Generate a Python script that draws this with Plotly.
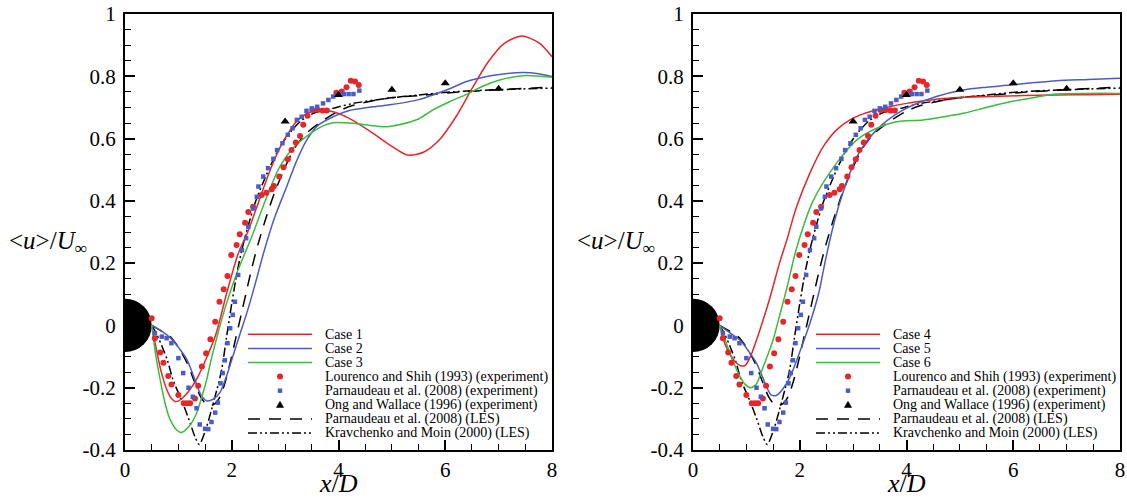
import numpy as np
import plotly.graph_objects as go

# ---------------- simulation cases (left panel) ----------------
case1_x = [0.5, 0.58, 0.68, 0.78, 0.87, 0.95, 1.05, 1.2, 1.35, 1.5, 1.7, 1.9, 2.12, 2.3,
           2.5, 2.7, 2.9, 3.05, 3.2, 3.4, 3.6, 3.9, 4.2, 4.65, 5.0, 5.3, 5.6, 5.9, 6.2,
           6.5, 6.8, 7.1, 7.43, 7.75, 8.0]
case1_u = [0.0, -0.07, -0.15, -0.205, -0.235, -0.245, -0.237, -0.21, -0.17, -0.115, -0.03,
           0.1, 0.23, 0.3, 0.395, 0.49, 0.57, 0.615, 0.652, 0.68, 0.69, 0.686, 0.665,
           0.617, 0.575, 0.547, 0.557, 0.598, 0.67, 0.76, 0.845, 0.905, 0.929, 0.908, 0.863]

case2_x = [0.5, 0.7, 0.85, 1.0, 1.16, 1.3, 1.42, 1.53, 1.65, 1.78, 1.9, 2.0, 2.15, 2.3,
           2.45, 2.6, 2.8, 3.03, 3.2, 3.4, 3.6, 3.9, 4.2, 4.65, 5.15, 5.5, 5.77, 6.15,
           6.4, 6.8, 7.02, 7.45, 7.75, 8.0]
case2_u = [0.0, -0.02, -0.04, -0.07, -0.11, -0.17, -0.222, -0.242, -0.237, -0.215, -0.164,
           -0.11, -0.03, 0.05, 0.14, 0.235, 0.345, 0.446, 0.522, 0.594, 0.64, 0.67, 0.69,
           0.702, 0.713, 0.725, 0.74, 0.765, 0.783, 0.8, 0.806, 0.812, 0.808, 0.799]

case3_x = [0.5, 0.59, 0.66, 0.75, 0.84, 0.97, 1.06, 1.22, 1.34, 1.44, 1.53, 1.6, 1.75,
           1.9, 2.1, 2.4, 2.65, 2.9, 3.15, 3.4, 3.7, 3.9, 4.28, 4.6, 4.9, 5.15, 5.5,
           5.77, 6.1, 6.4, 6.7, 7.02, 7.46, 8.0]
case3_u = [0.0, -0.11, -0.175, -0.25, -0.3, -0.336, -0.344, -0.32, -0.282, -0.229, -0.175,
           -0.12, -0.02, 0.07, 0.17, 0.296, 0.41, 0.51, 0.57, 0.607, 0.64, 0.651, 0.649,
           0.642, 0.638, 0.645, 0.663, 0.692, 0.72, 0.742, 0.768, 0.788, 0.802, 0.797]

# ---------------- simulation cases (right panel) ----------------
case4_x = [0.5, 0.6, 0.7, 0.8, 0.9, 0.98, 1.1, 1.19, 1.3, 1.4, 1.5, 1.62, 1.75, 1.94,
           2.19, 2.44, 2.69, 2.94, 3.2, 3.44, 3.7, 4.0, 4.35, 4.69, 5.1, 5.56, 6.2,
           6.81, 7.4, 8.0]
case4_u = [0.0, -0.06, -0.095, -0.118, -0.13, -0.128, -0.09, -0.047, 0.01, 0.065, 0.125,
           0.2, 0.27, 0.381, 0.489, 0.574, 0.628, 0.66, 0.68, 0.692, 0.703, 0.713, 0.722,
           0.729, 0.733, 0.735, 0.738, 0.74, 0.741, 0.742]

case5_x = [0.5, 0.7, 0.88, 1.05, 1.19, 1.3, 1.4, 1.47, 1.57, 1.7, 1.82, 2.0, 2.19, 2.35,
           2.47, 2.6, 2.75, 3.07, 3.44, 3.94, 4.56, 5.06, 5.5, 5.94, 6.4, 6.81, 7.4, 8.0]
case5_u = [0.0, -0.025, -0.047, -0.085, -0.121, -0.165, -0.205, -0.224, -0.224, -0.2,
           -0.165, -0.085, 0.007, 0.1, 0.2, 0.3, 0.395, 0.542, 0.628, 0.692, 0.735,
           0.756, 0.765, 0.772, 0.78, 0.786, 0.79, 0.794]

case6_x = [0.5, 0.6, 0.69, 0.8, 0.88, 0.98, 1.08, 1.18, 1.3, 1.4, 1.5, 1.62, 1.75, 1.94,
           2.25, 2.69, 3.07, 3.44, 3.81, 4.31, 4.7, 5.06, 5.5, 5.94, 6.4, 6.81, 7.4, 8.0]
case6_u = [0.0, -0.045, -0.089, -0.135, -0.164, -0.19, -0.2, -0.19, -0.14, -0.095, -0.047,
           0.03, 0.114, 0.248, 0.4, 0.521, 0.596, 0.633, 0.654, 0.66, 0.67, 0.681, 0.7,
           0.718, 0.732, 0.743, 0.745, 0.745]

# ---------------- reference LES ----------------
parn_les_x = [0.5, 0.7, 0.84, 1.0, 1.16, 1.3, 1.42, 1.56, 1.68, 1.78, 1.88, 1.97, 2.07,
              2.17, 2.27, 2.37, 2.5, 2.65, 2.8, 3.03, 3.2, 3.4, 3.71, 4.0, 4.28, 4.9, 5.5,
              6.15, 7.0, 8.0]
parn_les_u = [0.0, -0.02, -0.035, -0.07, -0.12, -0.18, -0.23, -0.258, -0.252, -0.229,
              -0.18, -0.12, -0.045, 0.03, 0.105, 0.18, 0.265, 0.35, 0.425, 0.52, 0.575,
              0.617, 0.658, 0.688, 0.707, 0.729, 0.738, 0.748, 0.757, 0.765]

krav_les_x = [0.5, 0.6, 0.7, 0.8, 0.9, 1.06, 1.19, 1.31, 1.39, 1.5, 1.62, 1.72, 1.81,
              1.9, 2.0, 2.1, 2.2, 2.3, 2.43, 2.59, 2.84, 3.03, 3.28, 3.53, 3.96, 4.28,
              4.9, 5.5, 6.15, 7.0, 8.0]
krav_les_u = [0.0, -0.03, -0.07, -0.115, -0.175, -0.24, -0.298, -0.357, -0.382, -0.341,
              -0.271, -0.207, -0.143, -0.04, 0.07, 0.17, 0.25, 0.315, 0.39, 0.46, 0.553,
              0.606, 0.654, 0.681, 0.70, 0.713, 0.729, 0.74, 0.75, 0.757, 0.762]

# ---------------- experiments ----------------
lourenco_x = [0.50, 0.56, 0.66, 0.72, 0.81, 0.87, 1.00, 1.10, 1.16, 1.22, 1.31, 1.37,
              1.44, 1.52, 1.60, 1.69, 1.77, 1.85, 1.92, 1.99, 2.09, 2.15, 2.25, 2.31,
              2.40, 2.56, 2.65, 2.75, 2.79, 2.89, 2.97, 3.05, 3.12, 3.20, 3.28, 3.34,
              3.42, 3.51, 3.61, 3.70, 3.78, 3.96, 4.06, 4.15, 4.23, 4.31, 4.38]
lourenco_u = [0.023, -0.041, -0.087, -0.12, -0.162, -0.19, -0.223, -0.25, -0.25, -0.25,
              -0.235, -0.194, -0.132, -0.089, -0.044, 0.012, 0.076, 0.116, 0.159, 0.226,
              0.258, 0.293, 0.33, 0.364, 0.381, 0.419, 0.426, 0.437, 0.448, 0.478, 0.508,
              0.534, 0.563, 0.587, 0.608, 0.644, 0.673, 0.692, 0.692, 0.69, 0.69, 0.747,
              0.751, 0.765, 0.786, 0.783, 0.772]

parn_exp_x = [0.56, 0.69, 0.78, 0.87, 1.00, 1.09, 1.19, 1.27, 1.34, 1.40, 1.50, 1.56,
              1.62, 1.69, 1.74, 1.79, 1.83, 1.87, 1.92, 1.97, 2.02, 2.06, 2.12, 2.19,
              2.27, 2.31, 2.40, 2.47, 2.50, 2.59, 2.68, 2.78, 2.85, 2.95, 3.05, 3.14,
              3.22, 3.31, 3.40, 3.50, 3.60, 3.71, 3.81, 3.90, 4.00, 4.10, 4.19, 4.28,
              4.39]
parn_exp_u = [-0.025, -0.036, -0.041, -0.057, -0.105, -0.153, -0.2, -0.229, -0.266,
              -0.318, -0.332, -0.333, -0.31, -0.28, -0.248, -0.186, -0.153, -0.112,
              -0.057, -0.009, 0.034, 0.076, 0.162, 0.242, 0.28, 0.317, 0.376, 0.413,
              0.446, 0.478, 0.505, 0.535, 0.563, 0.585, 0.612, 0.633, 0.66, 0.67, 0.689,
              0.697, 0.702, 0.713, 0.724, 0.735, 0.742, 0.743, 0.743, 0.743, 0.754]

ong_x = [3, 4, 5, 6, 7]
ong_u = [0.655, 0.74, 0.757, 0.778, 0.76]

# ---------------- axis ticks ----------------
x_ticks = [0, 2, 4, 6, 8]
y_ticks = [-0.4, -0.2, 0, 0.2, 0.4, 0.6, 0.8, 1]
y_tick_text = ["-0.4", "-0.2", "0", "0.2", "0.4", "0.6", "0.8", "1"]

left_cases = ["Case 1", "Case 2", "Case 3"]
right_cases = ["Case 4", "Case 5", "Case 6"]
ref_labels = ["Lourenco and Shih (1993) (experiment)",
              "Parnaudeau et al. (2008) (experiment)",
              "Ong and Wallace (1996) (experiment)",
              "Parnaudeau et al. (2008) (LES)",
              "Kravchenko and Moin (2000) (LES)"]

RED, BLUE, GREEN, BLACK = "#e5262b", "#4b5cc6", "#3dbb3d", "#000000"
DASH = "12px,9px"
DASHDOTDOT = "9px,3px,2px,3px,2px,3px"
FONT = "Liberation Serif"

W, H = 1127, 501
XDOM = [[125 / W, 552 / W], [693 / W, 1120 / W]]
YDOM = [1 - 450 / H, 1 - 14 / H]
XR, YR = [0, 8], [-0.4, 1.0]

fig = go.Figure()

panels = [
    (("x", "y"), [(case1_x, case1_u, RED), (case2_x, case2_u, BLUE), (case3_x, case3_u, GREEN)]),
    (("x2", "y2"), [(case4_x, case4_u, RED), (case5_x, case5_u, BLUE), (case6_x, case6_u, GREEN)]),
]

for (xa, ya), cases in panels:
    fig.add_trace(go.Scatter(x=parn_les_x, y=parn_les_u, mode="lines", xaxis=xa, yaxis=ya,
                             line=dict(color=BLACK, width=1.5, dash=DASH, shape="spline",
                                       smoothing=0.8),
                             showlegend=False))
    fig.add_trace(go.Scatter(x=krav_les_x, y=krav_les_u, mode="lines", xaxis=xa, yaxis=ya,
                             line=dict(color=BLACK, width=1.5, dash=DASHDOTDOT,
                                       shape="spline", smoothing=0.8),
                             showlegend=False))
    for cx, cu, col in cases:
        fig.add_trace(go.Scatter(x=cx, y=cu, mode="lines", xaxis=xa, yaxis=ya,
                                 line=dict(color=col, width=1.5, shape="spline",
                                           smoothing=0.8),
                                 showlegend=False))
    fig.add_trace(go.Scatter(x=lourenco_x, y=lourenco_u, mode="markers", xaxis=xa, yaxis=ya,
                             marker=dict(symbol="circle", size=6, color=RED), showlegend=False))
    fig.add_trace(go.Scatter(x=parn_exp_x, y=parn_exp_u, mode="markers", xaxis=xa, yaxis=ya,
                             marker=dict(symbol="square", size=4.5, color=BLUE), showlegend=False))
    fig.add_trace(go.Scatter(x=ong_x, y=ong_u, mode="markers", xaxis=xa, yaxis=ya,
                             marker=dict(symbol="triangle-up", size=8, color=BLACK),
                             showlegend=False))

y_minor = [round(v, 2) for v in np.arange(-0.4, 1.0001, 0.05)
           if abs(round(v / 0.2) * 0.2 - v) > 1e-6]
x_minor = [float(v) for v in np.arange(0, 8.001, 0.5) if v % 2 != 0]

shapes, annotations = [], []
for i, (xa, ya) in enumerate([("x", "y"), ("x2", "y2")]):
    sfx = "" if i == 0 else "2"
    fig.update_layout({
        "xaxis" + sfx: dict(domain=XDOM[i], range=XR, anchor=ya, tickmode="array",
                            tickvals=x_ticks),
        "yaxis" + sfx: dict(domain=YDOM, range=YR, anchor=xa, tickmode="array",
                            tickvals=y_ticks, ticktext=y_tick_text),
    })

    # cylinder (D = 1) drawn as a true circle in screen space
    px_per_x = W * (XDOM[i][1] - XDOM[i][0]) / (XR[1] - XR[0])
    px_per_y = H * (YDOM[1] - YDOM[0]) / (YR[1] - YR[0])
    r_y = 0.5 * px_per_x / px_per_y
    shapes.append(dict(type="circle", xref=xa, yref=ya, x0=-0.5, x1=0.5, y0=-r_y, y1=r_y,
                       fillcolor="black", line=dict(width=0), layer="below"))

    # axis titles
    cx = (XDOM[i][0] + XDOM[i][1]) / 2
    annotations.append(dict(text="<i>x</i>/<i>D</i>", xref="paper", yref="paper", x=cx,
                            y=0, xanchor="center", yanchor="bottom", yshift=1,
                            showarrow=False, font=dict(family=FONT, size=26, color="black")))
    annotations.append(dict(text="&lt;<i>u</i>&gt;/<i>U</i><sub>∞</sub>", xref="paper",
                            yref="paper", x=XDOM[i][0] - 77 / W, y=1 - 243 / H,
                            xanchor="center", yanchor="middle", showarrow=False,
                            font=dict(family=FONT, size=25, color="black")))

    # legend block inside the plot
    xd, yd = xa + " domain", ya + " domain"
    names = (left_cases if i == 0 else right_cases) + ref_labels
    row0, step = (450 - 334.3) / 436, 14.1 / 436
    l0, l1, mx, tx = 0.288, 0.438, 0.363, 0.464
    styles = [("line", RED, None), ("line", BLUE, None), ("line", GREEN, None),
              ("circle", RED, None), ("square", BLUE, None), ("triangle", BLACK, None),
              ("line", BLACK, DASH), ("line", BLACK, DASHDOTDOT)]
    for k, (kind, col, dash) in enumerate(styles):
        yy = row0 - k * step
        if kind == "line":
            shapes.append(dict(type="line", xref=xd, yref=yd, x0=l0, x1=l1, y0=yy, y1=yy,
                               line=dict(color=col, width=1.5, dash=dash or "solid")))
        elif kind == "circle":
            shapes.append(dict(type="circle", xref=xd, yref=yd, xsizemode="pixel",
                               ysizemode="pixel", xanchor=mx, yanchor=yy, x0=-3, x1=3,
                               y0=-3, y1=3, fillcolor=col, line=dict(width=0)))
        elif kind == "square":
            shapes.append(dict(type="rect", xref=xd, yref=yd, xsizemode="pixel",
                               ysizemode="pixel", xanchor=mx, yanchor=yy, x0=-2.2, x1=2.2,
                               y0=-2.2, y1=2.2, fillcolor=col, line=dict(width=0)))
        else:
            shapes.append(dict(type="path", xref=xd, yref=yd, xsizemode="pixel",
                               ysizemode="pixel", xanchor=mx, yanchor=yy,
                               path="M-4,-3 L4,-3 L0,4 Z", fillcolor=col,
                               line=dict(width=0)))
        annotations.append(dict(text=names[k], xref=xd, yref=yd, x=tx, y=yy,
                                xanchor="left", yanchor="middle", showarrow=False,
                                font=dict(family=FONT, size=14, color="black")))

# shared axis styling: framed box, inward ticks on left/bottom, serif labels
fig.update_xaxes(automargin=False, showline=True, linewidth=2, linecolor="black",
                 mirror=True, ticks="inside", ticklen=10, tickwidth=2, tickcolor="black",
                 showgrid=False, zeroline=False,
                 tickfont=dict(family=FONT, size=21, color="black"),
                 minor=dict(tickmode="array", tickvals=x_minor, ticks="inside",
                            ticklen=6, tickwidth=1, tickcolor="black", showgrid=False))
fig.update_yaxes(automargin=False, showline=True, linewidth=2, linecolor="black",
                 mirror=True, ticks="inside", ticklen=10, tickwidth=2, tickcolor="black",
                 showgrid=False, zeroline=False, ticklabelstandoff=3,
                 tickfont=dict(family=FONT, size=21, color="black"),
                 minor=dict(tickmode="array", tickvals=y_minor, ticks="inside",
                            ticklen=6, tickwidth=1, tickcolor="black", showgrid=False))

fig.update_layout(width=W, height=H, margin=dict(l=0, r=0, t=0, b=0, autoexpand=False),
                  font=dict(family=FONT, color="black"),
                  paper_bgcolor="white", plot_bgcolor="white", showlegend=False,
                  shapes=shapes, annotations=annotations)

fig.write_html("out.html")
